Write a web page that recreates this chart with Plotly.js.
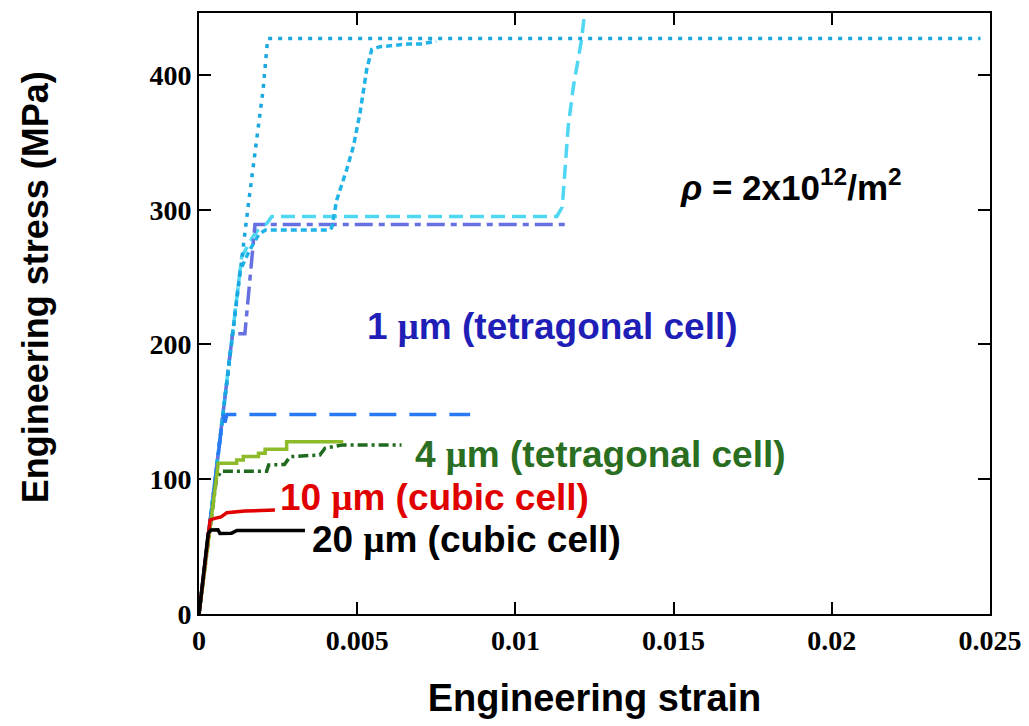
<!DOCTYPE html>
<html>
<head>
<meta charset="utf-8">
<script src="https://cdn.plot.ly/plotly-3.0.1.min.js"></script>
<style>html,body{margin:0;padding:0;background:#fff;}#chart{width:1029px;height:726px;}</style>
</head>
<body>
<div id="chart"></div>
<script>
// ---- data (engineering strain, engineering stress MPa) ----
const cyanDot1X = [0, 0.00103, 0.00156, 0.00203, 0.00217, 0.0247];
const cyanDot1Y = [0, 201, 304, 390, 427, 427];

const cyanDash2X = [0, 0.0013, 0.0016, 0.0019, 0.0021, 0.00414, 0.0042, 0.00435, 0.00467, 0.00488, 0.00509, 0.0053, 0.00546, 0.00572, 0.0062, 0.0066, 0.0070, 0.0075];
const cyanDash2Y = [0, 255, 270, 282, 285, 285, 287, 307, 330, 347, 372, 404, 419, 421, 422, 423, 423, 425];

const lightCyanX = [0, 0.00135, 0.0017, 0.0019, 0.00215, 0.0023, 0.01131, 0.01148, 0.01167, 0.01183, 0.01209, 0.01228];
const lightCyanY = [0, 265, 280, 286, 290, 295, 295, 302, 362, 391, 426, 465];

const periX = [0, 0.00106, 0.00145, 0.00177, 0.01163];
const periY = [0, 208, 208, 289, 289];

const blueX = [0, 0.00076, 0.00082, 0.00088, 0.00857];
const blueY = [0, 148, 142, 148, 148];

const greenSolidX = [0, 0.00061, 0.00119, 0.00119, 0.0014, 0.0014, 0.00188, 0.00188, 0.00209, 0.00209, 0.00277, 0.00277, 0.00456];
const greenSolidY = [0, 111.8, 111.8, 114.3, 114.3, 116.8, 116.8, 119.3, 119.3, 122.2, 122.2, 127.9, 127.9];

const darkGreenX = [0, 0.00055, 0.0007, 0.00214, 0.0022, 0.0027, 0.00288, 0.00382, 0.00398, 0.00451, 0.0064];
const darkGreenY = [0, 100, 106, 106, 110.6, 111, 116.8, 118, 123, 125.4, 125.4];

const redX = [0, 0.00035, 0.0005, 0.0007, 0.00088, 0.00145, 0.0024];
const redY = [0, 69.8, 71, 72, 75.2, 76.4, 77.2];

const blackX = [0, 0.00029, 0.00038, 0.0006, 0.00066, 0.00103, 0.0012, 0.00335];
const blackY = [0, 59.9, 62.3, 62.5, 59.8, 60, 62, 62];

const xTickVals = [0, 0.005, 0.01, 0.015, 0.02, 0.025];
const xTickText = ['0', '0.005', '0.01', '0.015', '0.02', '0.025'];
const yTickVals = [0, 100, 200, 300, 400];
const yTickText = ['0', '100', '200', '300', '400'];

const labels = [
  {text: '<i>ρ</i> = 2x10<sup>12</sup>/m<sup>2</sup>', x: 0.01514, y: 318, color: '#000000', size: 35},
  {text: '1 <span style="font-family:\'Liberation Serif\'">μ</span>m (tetragonal cell)', x: 0.00525, y: 213, color: '#1f1fb8', size: 37},
  {text: '4 <span style="font-family:\'Liberation Serif\'">μ</span>m (tetragonal cell)', x: 0.00676, y: 118.7, color: '#2a6e22', size: 37},
  {text: '10 <span style="font-family:\'Liberation Serif\'">μ</span>m (cubic cell)', x: 0.0025, y: 86.8, color: '#e00000', size: 37},
  {text: '20 <span style="font-family:\'Liberation Serif\'">μ</span>m (cubic cell)', x: 0.00351, y: 55, color: '#000000', size: 37}
];

// ---- traces ----
function tr(x, y, color, dash, width) {
  return {x: x, y: y, type: 'scatter', mode: 'lines', showlegend: false, hoverinfo: 'skip',
          line: {color: color, dash: dash, width: width || 3}};
}
const data = [
  tr(lightCyanX, lightCyanY, '#4fd6f3', '14px,7px', 3.5),
  tr(periX, periY, '#6670e0', '18px,6px,6px,6px', 3.5),
  tr(cyanDash2X, cyanDash2Y, '#1fb3e8', '6px,4px', 3.5),
  tr(cyanDot1X, cyanDot1Y, '#1aa6de', '4px,6px', 3.5),
  tr(blueX, blueY, '#2a78f2', '27px,13px', 3.5),
  tr(darkGreenX, darkGreenY, '#1f6a1f', '10px,4px,3px,4px', 3.5),
  tr(greenSolidX, greenSolidY, '#8dbb2a', 'solid', 3.5),
  tr(redX, redY, '#e00000', 'solid', 3.5),
  tr(blackX, blackY, '#000000', 'solid', 3.5)
];

const annotations = labels.map(l => ({
  text: l.text, x: l.x, y: l.y, xref: 'x', yref: 'y', xanchor: 'left', yanchor: 'middle',
  showarrow: false, font: {family: 'Liberation Sans', size: l.size, color: l.color, weight: 'bold'}
}));
annotations.push({
  text: 'Engineering stress (MPa)', xref: 'paper', yref: 'paper', x: -0.207, y: 0.544,
  xanchor: 'center', yanchor: 'middle', textangle: -90, showarrow: false,
  font: {family: 'Liberation Sans', size: 36, color: '#000', weight: 'bold'}
});

const layout = {
  width: 1029, height: 726,
  margin: {l: 199, r: 39, t: 13, b: 112, pad: 0},
  paper_bgcolor: '#ffffff', plot_bgcolor: '#ffffff',
  xaxis: {
    range: [0, 0.025], tickvals: xTickVals, ticktext: xTickText,
    ticks: 'inside', ticklen: 12, tickwidth: 2, tickcolor: '#000',
    showline: true, linecolor: '#000', linewidth: 2, mirror: 'ticks',
    showgrid: false, zeroline: false,
    tickfont: {family: 'Liberation Serif', size: 28, color: '#000', weight: 'bold'},
    title: {text: 'Engineering strain', standoff: 30,
            font: {family: 'Liberation Sans', size: 38, color: '#000', weight: 'bold'}}
  },
  yaxis: {
    range: [0, 446], tickvals: yTickVals, ticktext: yTickText,
    ticks: 'inside', ticklen: 12, tickwidth: 2, tickcolor: '#000',
    showline: true, linecolor: '#000', linewidth: 2, mirror: 'ticks',
    showgrid: false, zeroline: false,
    tickfont: {family: 'Liberation Serif', size: 28, color: '#000', weight: 'bold'}
  },
  annotations: annotations
};

Plotly.newPlot('chart', data, layout, {displayModeBar: false, staticPlot: true});
</script>
</body>
</html>
